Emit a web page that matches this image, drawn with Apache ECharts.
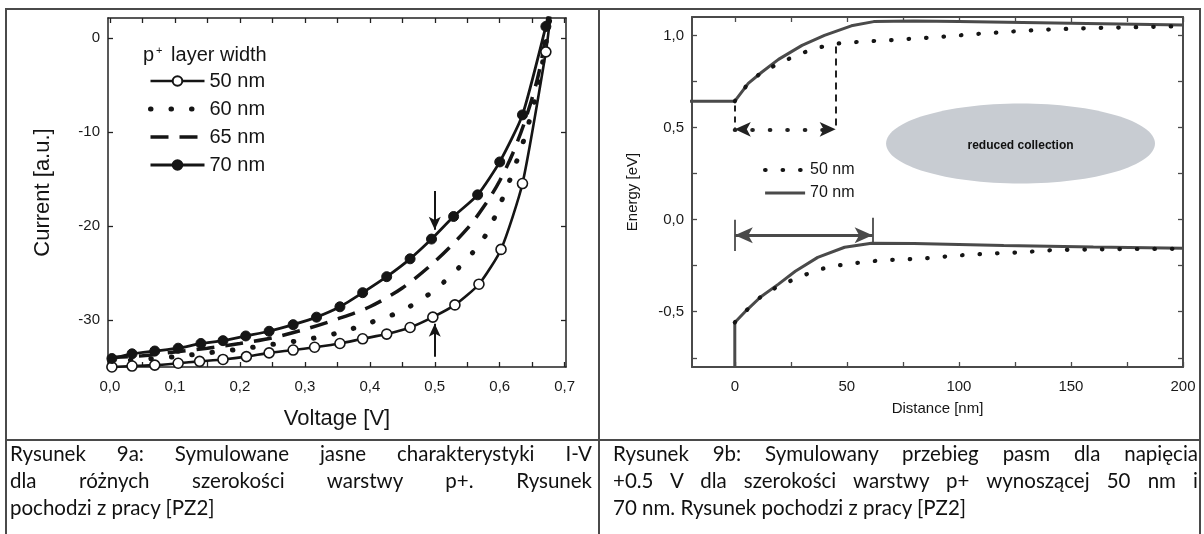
<!DOCTYPE html>
<html><head><meta charset="utf-8">
<script src="https://cdn.jsdelivr.net/npm/echarts@6.0.0/dist/echarts.min.js"></script>
<style>
html,body{margin:0;padding:0;background:#fff;width:1204px;height:534px;overflow:hidden;position:relative;}
#c1{position:absolute;left:0;top:0;width:598px;height:440px;}
#c2{position:absolute;left:598px;top:0;width:606px;height:440px;}
.ln{position:absolute;background:#4a4a4a;}
.cap{position:absolute;top:440px;font-family:Lato,'Open Sans',sans-serif;font-size:20.5px;line-height:27px;color:#111;}
.cap div{white-space:nowrap;}
.j{text-align:justify;text-align-last:justify;}
</style></head>
<body>
<div id="c1"></div>
<div id="c2"></div>
<div class="ln" style="left:5px;top:8px;width:1196px;height:2px"></div>
<div class="ln" style="left:5px;top:8px;width:2px;height:526px"></div>
<div class="ln" style="left:598px;top:8px;width:2px;height:526px"></div>
<div class="ln" style="left:1199px;top:8px;width:2px;height:526px"></div>
<div class="ln" style="left:5px;top:439px;width:1196px;height:2px"></div>
<div class="cap" style="left:10px;width:582px">
 <div class="j">Rysunek 9a: Symulowane jasne charakterystyki I-V</div>
 <div class="j">dla różnych szerokości warstwy p+. Rysunek</div>
 <div>pochodzi z pracy [PZ2]</div>
</div>
<div class="cap" style="left:613px;width:585px">
 <div class="j">Rysunek 9b: Symulowany przebieg pasm dla napięcia</div>
 <div class="j">+0.5 V dla szerokości warstwy p+ wynoszącej 50 nm i</div>
 <div>70 nm. Rysunek pochodzi z pracy [PZ2]</div>
</div>
<script>
// ===== Figure 9a: I-V curves =====
const v50 = [0.003,0.034,0.069,0.105,0.138,0.174,0.210,0.245,0.282,0.315,0.354,0.389,0.426,0.462,0.497,0.531,0.568,0.602,0.635,0.671,0.678];
const i50 = [-35.0,-34.9,-34.8,-34.6,-34.4,-34.2,-33.9,-33.5,-33.2,-32.9,-32.5,-32.0,-31.5,-30.8,-29.7,-28.4,-26.2,-22.5,-15.5,-1.5,2.3];
const v60 = [0.0,0.05,0.10,0.15,0.20,0.25,0.30,0.35,0.40,0.45,0.50,0.55,0.58,0.60,0.62,0.64,0.66,0.678];
const i60 = [-34.4,-34.2,-33.9,-33.5,-33.1,-32.6,-32.1,-31.4,-30.3,-29.0,-26.8,-23.5,-20.8,-17.8,-14.3,-10.2,-4.8,2.3];
const v65 = [0.0,0.05,0.10,0.15,0.20,0.25,0.30,0.35,0.40,0.45,0.50,0.55,0.58,0.60,0.62,0.64,0.66,0.676];
const i65 = [-34.0,-33.8,-33.4,-33.0,-32.5,-31.9,-31.0,-29.9,-28.6,-26.6,-23.8,-20.3,-17.5,-15.2,-12.3,-8.6,-3.8,2.3];
const v70 = [0.003,0.034,0.069,0.105,0.140,0.174,0.209,0.245,0.282,0.318,0.354,0.389,0.426,0.462,0.495,0.529,0.566,0.600,0.635,0.671,0.674];
const i70 = [-34.1,-33.6,-33.3,-33.0,-32.5,-32.2,-31.7,-31.2,-30.5,-29.7,-28.6,-27.1,-25.4,-23.5,-21.4,-19.0,-16.7,-13.2,-8.2,1.2,2.3];
const seriesNames9a = ['50 nm','60 nm','65 nm','70 nm'];
const voltTicks = [0,0.05,0.1,0.15,0.2,0.25,0.3,0.35,0.4,0.45,0.5,0.55,0.6,0.65,0.7];
const voltLabels = [0,0.1,0.2,0.3,0.4,0.5,0.6,0.7];
const currentTicks = [0,-10,-20,-30];
// arrows at V = 0.5 : [V, I_start, I_end]
const arrowDown = [0.5,-16.3,-20.4];
const arrowUp = [0.5,-33.9,-30.4];

// ===== Figure 9b: band diagram =====
const cb70 = [[-20,0.643],[0,0.643],[6,0.74],[12,0.80],[19.5,0.87],[30,0.946],[40,1.0],[52,1.052],[62,1.075],[80,1.078],[100,1.076],[150,1.066],[200,1.056]];
const vb70 = [[0,-0.8],[0,-0.558],[5,-0.495],[11.5,-0.42],[19.5,-0.35],[27,-0.28],[37,-0.205],[49,-0.15],[61,-0.128],[80,-0.13],[120,-0.14],[160,-0.148],[200,-0.155]];
const cb50 = [[0,0.643],[6,0.74],[12,0.80],[20,0.85],[28,0.895],[36,0.93],[45,0.955],[55,0.965],[70,0.975],[90,0.99],[110,1.01],[135,1.03],[160,1.04],[200,1.05]];
const vb50 = [[0,-0.558],[5,-0.495],[11.5,-0.42],[19.5,-0.36],[28,-0.316],[36,-0.277],[43,-0.254],[51,-0.24],[59,-0.228],[67,-0.22],[82,-0.213],[98,-0.196],[112,-0.185],[127,-0.178],[142,-0.165],[170,-0.16],[200,-0.158]];
const seriesNames9b = ['50 nm','70 nm'];
const distTicks = [0,25,50,75,100,125,150,175,200];
const distLabels = [0,50,100,150,200];
const energyTicks = [-0.75,-0.5,-0.25,0,0.25,0.5,0.75,1.0];
const energyLabels = [-0.5,0,0.5,1.0];
// annotations (nm, eV)
const width50 = 45, width70 = 61.5;
const dottedArrowE = 0.49, solidArrowE = -0.085;
const dashLeft = [0, 0.62, 0.49], dashRight = [45, 0.94, 0.49];
const barLeft = [0, 0.0, -0.17], barRight = [61.5, 0.01, -0.13];
const ellipseC = [127.5, 0.413], ellipseR = [60, 0.217];

const FONT = 'Liberation Sans, Arial, Helvetica, sans-serif';
const ink = '#151515';

function frameAxes(min, max, ticks, labels, fmt, pos, color, lw, opts) {
  const base = {
    type:'value', min:min, max:max, position:pos,
    axisLine:{show:true, onZero:false, lineStyle:{color:color, width:lw}},
    axisTick:{show:true, inside:true, length:5, customValues:ticks, lineStyle:{color:color, width:1.3}},
    axisLabel:{show:!!labels, customValues:labels || undefined, formatter:fmt, fontFamily:FONT, color:'#1a1a1a'},
    splitLine:{show:false}
  };
  return Object.assign(base, opts || {});
}
const commaFmt = v => v.toFixed(1).replace('.', ',');
const legendItems = (names, noSymbol) => names.map(n => noSymbol.indexOf(n) >= 0 ? {name:n, itemStyle:{opacity:0}} : {name:n});

// ---------- chart 1 ----------
const c1 = echarts.init(document.getElementById('c1'));
const pairs = (xs, ys) => xs.map((x, k) => [x, ys[k]]);
const withTail = (xs, ys) => xs.map((x, k) => k === xs.length - 1 ? {value:[x, ys[k]], symbol:'none'} : [x, ys[k]]);
const xMin1 = -0.003, xMax1 = 0.702, yMin1 = -35, yMax1 = 2.1;
const xa1 = frameAxes(xMin1, xMax1, voltTicks, voltLabels, commaFmt, 'bottom', '#222', 1.5, {
  name:'Voltage [V]', nameLocation:'middle', nameGap:41, nameTextStyle:{fontSize:22, fontFamily:FONT, color:ink}});
xa1.axisLabel.fontSize = 15; xa1.axisLabel.margin = 12;
const xa1t = frameAxes(xMin1, xMax1, voltTicks, null, null, 'top', '#222', 1.5);
const ya1 = frameAxes(yMin1, yMax1, currentTicks, currentTicks, v => String(v), 'left', '#222', 1.5, {
  name:'Current [a.u.]', nameLocation:'middle', nameGap:54, nameTextStyle:{fontSize:22, fontFamily:FONT, color:ink}});
ya1.axisLabel.fontSize = 15; ya1.axisLabel.margin = 8;
const ya1r = frameAxes(yMin1, yMax1, currentTicks, null, null, 'right', '#222', 1.5);

c1.setOption({
  animation:false,
  grid:{left:108, top:18, width:458, height:349},
  xAxis:[xa1, xa1t],
  yAxis:[ya1, ya1r],
  legend:{orient:'vertical', left:143, top:66, itemWidth:54, itemHeight:12, itemGap:8, selectedMode:false,
    lineStyle:{width:'inherit'},
    data:legendItems(seriesNames9a, ['60 nm','65 nm']), textStyle:{fontSize:20, lineHeight:20, fontFamily:FONT, color:ink}},
  graphic:[{type:'text', left:143, top:45, style:{text:'{a|p}{b|+}{a| layer width}',
    rich:{a:{fontSize:20, fontFamily:FONT, fill:ink}, b:{fontSize:11, fontFamily:FONT, fill:ink, verticalAlign:'top', padding:[0,3,0,2]}}}}],
  series:[
    {name:'60 nm', type:'line', data:pairs(v60, i60), smooth:0.3, showSymbol:false, symbol:'none',
     itemStyle:{color:ink}, lineStyle:{color:ink, width:5, type:[0.5,20], cap:'round'}, z:2},
    {name:'65 nm', type:'line', data:pairs(v65, i65), smooth:0.3, showSymbol:false, symbol:'none',
     itemStyle:{color:ink}, lineStyle:{color:ink, width:3.5, type:[18,11]}, z:2},
    {name:'50 nm', type:'line', data:withTail(v50, i50), smooth:0.2, symbol:'circle', symbolSize:10,
     itemStyle:{color:'#ffffff', borderColor:ink, borderWidth:1.6}, lineStyle:{color:ink, width:2.6}, z:3},
    {name:'70 nm', type:'line', data:withTail(v70, i70), smooth:0.2, symbol:'circle', symbolSize:10,
     itemStyle:{color:ink, borderColor:ink, borderWidth:1}, lineStyle:{color:ink, width:2.8}, z:4,
     markLine:{silent:true, animation:false, label:{show:false}, emphasis:{disabled:true},
       lineStyle:{color:ink, width:2, type:'solid'},
       data:[
         [{coord:[arrowDown[0], arrowDown[1]], symbol:'none'}, {coord:[arrowDown[0], arrowDown[2]], symbol:'arrow', symbolSize:[9,13]}],
         [{coord:[arrowUp[0], arrowUp[1]], symbol:'none'}, {coord:[arrowUp[0], arrowUp[2]], symbol:'arrow', symbolSize:[9,13]}]
       ]}}
  ]
});

// ---------- chart 2 ----------
const c2 = echarts.init(document.getElementById('c2'));
const gray = '#4a4a4a';
const xMin2 = -19.1, xMax2 = 200, yMin2 = -0.8, yMax2 = 1.1;
const xa2 = frameAxes(xMin2, xMax2, distTicks, distLabels, v => String(v), 'bottom', gray, 2, {
  name:'Distance [nm]', nameLocation:'middle', nameGap:34, nameTextStyle:{fontSize:15, fontFamily:FONT, color:ink}});
xa2.axisLabel.fontSize = 15; xa2.axisLabel.margin = 12;
const xa2t = frameAxes(xMin2, xMax2, distTicks, null, null, 'top', gray, 2);
const ya2 = frameAxes(yMin2, yMax2, energyTicks, energyLabels, commaFmt, 'left', gray, 2, {
  name:'Energy [eV]', nameLocation:'middle', nameGap:52, nameTextStyle:{fontSize:15, fontFamily:FONT, color:ink}});
ya2.axisLabel.fontSize = 15; ya2.axisLabel.margin = 8;
const ya2r = frameAxes(yMin2, yMax2, energyTicks, null, null, 'right', gray, 2);

const dotStyle = {color:ink, width:4.2, type:[0.5,17], cap:'round'};
const solidStyle = {color:gray, width:3};
c2.setOption({
  animation:false,
  grid:{left:94, top:17, width:491, height:350},
  xAxis:[xa2, xa2t],
  yAxis:[ya2, ya2r],
  legend:{orient:'vertical', left:160, top:156, itemWidth:40, itemHeight:10, itemGap:5, selectedMode:false,
    lineStyle:{width:'inherit'},
    data:legendItems(seriesNames9b, seriesNames9b), textStyle:{fontSize:16, lineHeight:18, fontFamily:FONT, color:ink}},
  series:[
    {name:'70 nm', type:'line', data:cb70, symbol:'none', itemStyle:{color:gray}, lineStyle:solidStyle, z:2},
    {name:'70 nm', type:'line', data:vb70, symbol:'none', itemStyle:{color:gray}, lineStyle:solidStyle, z:2,
     markLine:{silent:true, animation:false, label:{show:false}, emphasis:{disabled:true},
       lineStyle:{color:'#222', width:2, type:'solid'},
       data:[
         [{coord:[dashLeft[0], dashLeft[1]], symbol:'none', lineStyle:{color:'#222', width:2, type:[6,5]}}, {coord:[dashLeft[0], dashLeft[2]], symbol:'none'}],
         [{coord:[dashRight[0], dashRight[1]], symbol:'none', lineStyle:{color:'#222', width:2, type:[7,5]}}, {coord:[dashRight[0], dashRight[2]], symbol:'none'}],
         [{coord:[0, dottedArrowE], symbol:'arrow', symbolSize:[11,16], lineStyle:{color:'#222', width:4.2, type:[0.5,17], cap:'round'}}, {coord:[width50, dottedArrowE], symbol:'arrow', symbolSize:[11,16]}],
         [{coord:[barLeft[0], barLeft[1]], symbol:'none', lineStyle:{color:gray, width:1.8}}, {coord:[barLeft[0], barLeft[2]], symbol:'none'}],
         [{coord:[barRight[0], barRight[1]], symbol:'none', lineStyle:{color:gray, width:1.8}}, {coord:[barRight[0], barRight[2]], symbol:'none'}],
         [{coord:[0, solidArrowE], symbol:'arrow', symbolSize:[12,18], lineStyle:{color:gray, width:3.2}}, {coord:[width70, solidArrowE], symbol:'arrow', symbolSize:[12,18]}]
       ]}},
    {name:'50 nm', type:'line', data:cb50, symbol:'none', itemStyle:{color:ink}, lineStyle:dotStyle, z:3},
    {name:'50 nm', type:'line', data:vb50, symbol:'none', itemStyle:{color:ink}, lineStyle:dotStyle, z:3}
  ]
});
// ellipse annotation placed through the chart's own scales
const pc = c2.convertToPixel({seriesIndex:0}, ellipseC);
const pr = c2.convertToPixel({seriesIndex:0}, [ellipseC[0] + ellipseR[0], ellipseC[1] + ellipseR[1]]);
c2.setOption({graphic:[
  {type:'ellipse', z:0, silent:true, shape:{cx:pc[0], cy:pc[1], rx:pr[0]-pc[0], ry:pc[1]-pr[1]}, style:{fill:'#c8ccd2'}},
  {type:'text', z:1, silent:true, x:pc[0], y:pc[1]+2, style:{text:'reduced collection', align:'center', verticalAlign:'middle',
    font:'bold 12px Liberation Sans, Arial, sans-serif', fill:'#111'}}
]});
</script>
</body></html>
